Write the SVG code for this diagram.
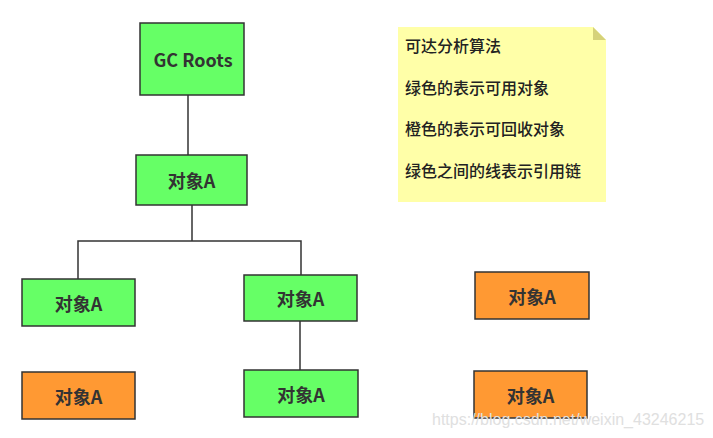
<svg xmlns="http://www.w3.org/2000/svg" width="713" height="438" viewBox="0 0 713 438">
<style>
.g{fill:#66ff66;stroke:#333;stroke-width:1.5}
.o{fill:#ff9933;stroke:#333;stroke-width:1.5}
.t{font-family:"Noto Sans CJK SC","Noto Sans",sans-serif;font-weight:bold;font-size:18px;fill:#333;text-anchor:middle;dominant-baseline:central}
.n{font-family:"Noto Sans CJK SC",sans-serif;font-size:16px;fill:#222;font-weight:500}
.c{fill:none;stroke:#333;stroke-width:1.5}
</style>
<rect width="713" height="438" fill="#fff"/>
<g id="connectors">
<path class="c" d="M188 95V155"/>
<path class="c" d="M192 205V241"/>
<path class="c" d="M78 279V241H301V275"/>
<path class="c" d="M300 321V370"/>
</g>
<g id="gcroots"><rect class="g" x="140" y="23" width="104" height="72"/><text class="t" x="193" y="59" font-size="19.5">GC Roots</text></g>
<g id="objA1"><rect class="g" x="136" y="155" width="111" height="50"/><text class="t" x="191.5" y="180">对象A</text></g>
<g id="objA2"><rect class="g" x="22" y="279" width="113" height="47"/><text class="t" x="78.5" y="302.5">对象A</text></g>
<g id="objA3"><rect class="g" x="244" y="275" width="113" height="46"/><text class="t" x="300.5" y="298">对象A</text></g>
<g id="objA4"><rect class="g" x="244" y="370" width="114" height="47"/><text class="t" x="301" y="393.5">对象A</text></g>
<g id="objA5"><rect class="o" x="22" y="372" width="113" height="47"/><text class="t" x="78.5" y="395.5">对象A</text></g>
<g id="objA6"><rect class="o" x="475" y="272" width="114" height="47"/><text class="t" x="532" y="295.5">对象A</text></g>
<g id="objA7"><rect class="o" x="474" y="371" width="113" height="47"/><text class="t" x="530.5" y="394.5">对象A</text></g>
<g id="note">
<path d="M398 27H593L606 40V202H398Z" fill="#ffffa8"/>
<path d="M593 27L606 40H593Z" fill="#d6d27a"/>
<text class="n" x="405" y="52">可达分析算法</text>
<text class="n" x="405" y="94">绿色的表示可用对象</text>
<text class="n" x="405" y="135">橙色的表示可回收对象</text>
<text class="n" x="405" y="177">绿色之间的线表示引用链</text>
</g>
<text x="432" y="425" font-family="Liberation Sans,Arial,sans-serif" font-size="16" fill="#e0e0e0">https://blog.csdn.net/weixin_43246215</text>
</svg>
